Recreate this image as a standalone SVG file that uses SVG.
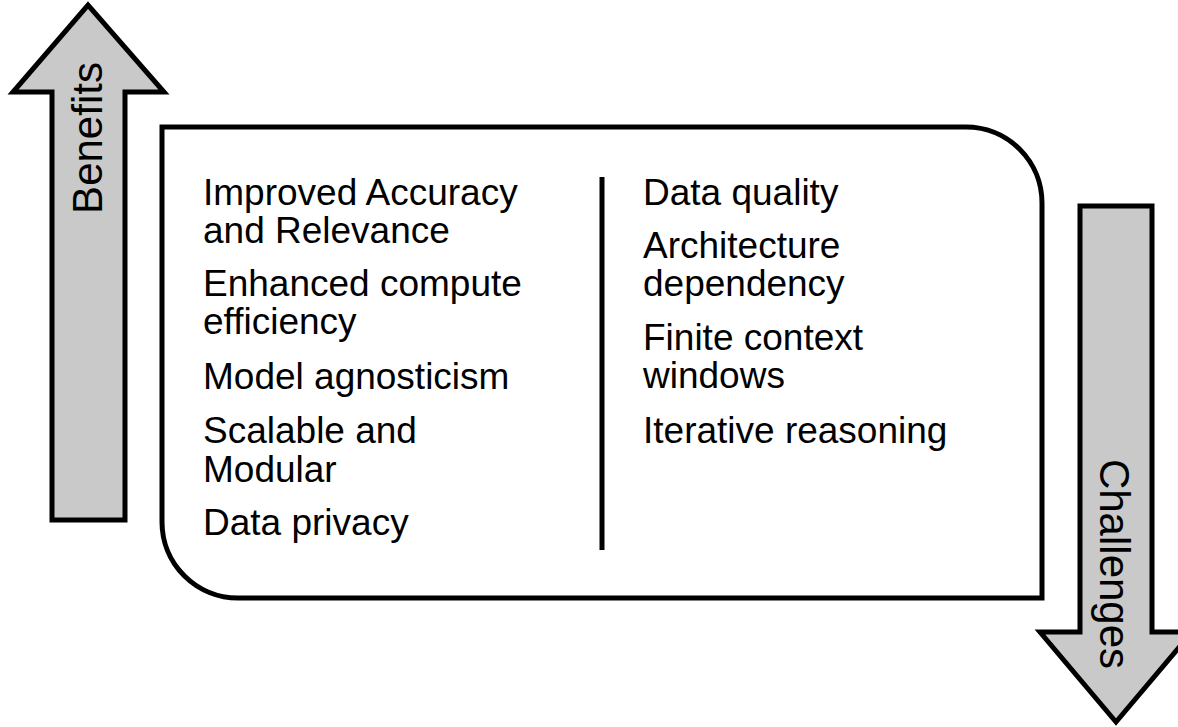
<svg xmlns="http://www.w3.org/2000/svg" width="1178" height="727" viewBox="0 0 1178 727">
<style>
.arrow{fill:#c9c9c9;stroke:#000;stroke-width:5;stroke-linejoin:miter}
.box{fill:#fff;stroke:#000;stroke-width:5}
.t{font-family:"Liberation Sans",Arial,sans-serif;font-size:37px;fill:#000}
.lab{font-family:"Liberation Sans",Arial,sans-serif;font-size:42px;fill:#000;text-anchor:middle}
</style>
<rect width="1178" height="727" fill="#fff"/>
<g id="benefits-arrow">
<path class="arrow" d="M52,520 L52,92 L13,92 L88,5 L164,92 L125,92 L125,520 Z"/>
<text class="lab" transform="translate(102,138) rotate(-90)">Benefits</text>
</g>
<g id="challenges-arrow">
<path class="arrow" d="M1080,206 L1152,206 L1152,632 L1192,632 L1116,722 L1040,632 L1080,632 Z"/>
<text class="lab" transform="translate(1100,564) rotate(90)">Challenges</text>
</g>
<g id="panel">
<path class="box" d="M162,127 L966,127 A76,76 0 0 1 1042,203 L1042,598 L238,598 A76,76 0 0 1 162,522 Z"/>
<line x1="602" y1="177" x2="602" y2="550" stroke="#000" stroke-width="5"/>
</g>
<g id="benefits-list">
<text class="t" x="203" y="205">Improved Accuracy</text>
<text class="t" x="203" y="243">and Relevance</text>
<text class="t" x="203" y="296">Enhanced compute</text>
<text class="t" x="203" y="334">efficiency</text>
<text class="t" x="203" y="389">Model agnosticism</text>
<text class="t" x="203" y="443">Scalable and</text>
<text class="t" x="203" y="482">Modular</text>
<text class="t" x="203" y="535">Data privacy</text>
</g>
<g id="challenges-list">
<text class="t" x="643" y="205">Data quality</text>
<text class="t" x="643" y="258">Architecture</text>
<text class="t" x="643" y="296">dependency</text>
<text class="t" x="643" y="350">Finite context</text>
<text class="t" x="643" y="388">windows</text>
<text class="t" x="643" y="443">Iterative reasoning</text>
</g>
</svg>
